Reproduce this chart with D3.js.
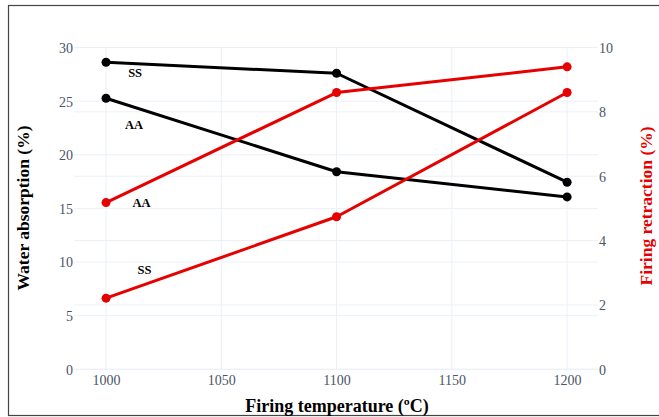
<!DOCTYPE html>
<html><head><meta charset="utf-8">
<script src="https://cdn.jsdelivr.net/npm/d3@7"></script>
<style>html,body{margin:0;padding:0;background:#fff;}svg{display:block;}</style>
</head><body>
<svg id="chart" width="659" height="417"></svg>
<script>
const temperatures = [1000, 1100, 1200];
const waterSS = [28.62, 27.6, 17.44];
const waterAA = [25.27, 18.42, 16.07];
const retractionAA = [5.18, 8.6, 9.40];
const retractionSS = [2.21, 4.74, 8.6];
const xTicks = [1000, 1050, 1100, 1150, 1200];
const leftTicks = [0, 5, 10, 15, 20, 25, 30];
const rightTicks = [0, 2, 4, 6, 8, 10];
const labelTexts = ["SS", "AA", "AA", "SS"];
const labelX = [1012.6, 1012.1, 1015.4, 1016.7];
const labelY = [27.67, 22.8, 5.18, 3.11];
const labelAxis = ["left", "left", "right", "right"];

(function () {
const svg = d3.select("#chart");
const pLeft = 74, pRight = 598, pTop = 47.5, pBottom = 369.3;
const x = d3.scaleLinear().domain([986.1, 1213.4]).range([pLeft, pRight]);
const yL = d3.scaleLinear().domain([0, 30]).range([pBottom, pTop]);
const yR = d3.scaleLinear().domain([0, 10]).range([pBottom, pTop]);
const serif = "'Liberation Serif', 'Times New Roman', serif";
const tickColor = "#4a5568";
const gridColor = "#ebf0f8";

// frame
svg.append("rect").attr("x", 8.5).attr("y", 5.5).attr("width", 700).attr("height", 410)
  .attr("fill", "none").attr("stroke", "#444").attr("stroke-width", 1.2);

// grids
const g = svg.append("g");
g.selectAll(null).data(xTicks).join("line")
  .attr("x1", d => x(d)).attr("x2", d => x(d)).attr("y1", pTop).attr("y2", pBottom)
  .attr("stroke", gridColor).attr("stroke-width", 1);
g.selectAll(null).data(leftTicks).join("line")
  .attr("x1", pLeft).attr("x2", pRight).attr("y1", d => yL(d)).attr("y2", d => yL(d))
  .attr("stroke", gridColor).attr("stroke-width", 1);
g.selectAll(null).data(rightTicks).join("line")
  .attr("x1", pLeft).attr("x2", pRight).attr("y1", d => yR(d)).attr("y2", d => yR(d))
  .attr("stroke", gridColor).attr("stroke-width", 1);

// axes
const axL = d3.axisLeft(yL).tickValues(leftTicks).tickSize(0).tickPadding(0);
const axR = d3.axisRight(yR).tickValues(rightTicks).tickSize(0).tickPadding(0);
const axB = d3.axisBottom(x).tickValues(xTicks).tickSize(0).tickPadding(0).tickFormat(d3.format("d"));
function styleAxis(sel) {
  sel.select(".domain").remove();
  sel.selectAll("text").attr("font-family", serif).attr("font-size", 14).attr("fill", tickColor);
}
svg.append("g").attr("transform", `translate(${pLeft - 1},0)`).call(axL).call(styleAxis)
  .selectAll("text").attr("dy", "0.35em");
svg.append("g").attr("transform", `translate(${pRight + 1},0)`).call(axR).call(styleAxis)
  .selectAll("text").attr("dy", "0.35em");
svg.append("g").attr("transform", `translate(0,${pBottom + 5})`).call(axB).call(styleAxis)
  .selectAll("text").attr("dy", "0.75em");

// lines
function drawSeries(vals, yScale, color) {
  const pts = temperatures.map((t, i) => [t, vals[i]]);
  const line = d3.line().x(d => x(d[0])).y(d => yScale(d[1]));
  svg.append("path").datum(pts).attr("d", line).attr("fill", "none")
    .attr("stroke", color).attr("stroke-width", 3).attr("stroke-linejoin", "round");
  svg.append("g").selectAll("circle").data(pts).join("circle")
    .attr("cx", d => x(d[0])).attr("cy", d => yScale(d[1])).attr("r", 4.5).attr("fill", color);
}
drawSeries(waterSS, yL, "#000");
drawSeries(waterAA, yL, "#000");
drawSeries(retractionAA, yR, "#e60000");
drawSeries(retractionSS, yR, "#e60000");

// labels
svg.append("g").selectAll("text").data(labelTexts).join("text")
  .attr("x", (d, i) => x(labelX[i]))
  .attr("y", (d, i) => (labelAxis[i] === "left" ? yL : yR)(labelY[i]))
  .attr("dy", "0.35em").attr("text-anchor", "middle")
  .attr("font-family", serif).attr("font-weight", "bold").attr("font-size", 12.5)
  .attr("fill", "#000").text(d => d);

// axis titles
svg.append("text").attr("transform", `translate(29,208) rotate(-90)`)
  .attr("text-anchor", "middle").attr("font-family", serif).attr("font-weight", "bold")
  .attr("font-size", 17.5).attr("fill", "#000").text("Water absorption (%)");
svg.append("text").attr("transform", `translate(646,206) rotate(-90)`)
  .attr("text-anchor", "middle").attr("dy", "0.35em").attr("font-family", serif).attr("font-weight", "bold")
  .attr("font-size", 17.5).attr("fill", "#e60000").text("Firing retraction (%)");
svg.append("text").attr("x", 337).attr("y", 406).attr("dy", "0.35em")
  .attr("text-anchor", "middle").attr("font-family", serif).attr("font-weight", "bold")
  .attr("font-size", 18).attr("fill", "#000").text("Firing temperature (ºC)");
})();
</script>
</body></html>
